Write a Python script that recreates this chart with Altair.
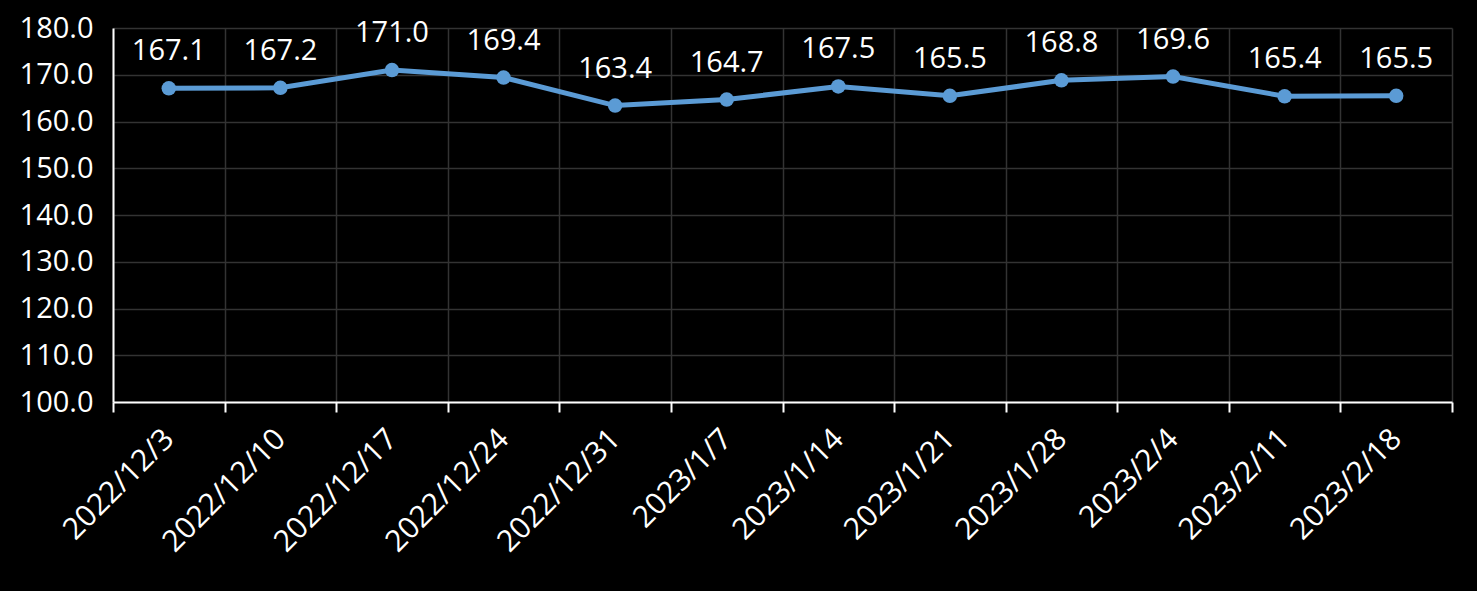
import altair as alt
import pandas as pd

dates = ["2022/12/3", "2022/12/10", "2022/12/17", "2022/12/24", "2022/12/31",
         "2023/1/7", "2023/1/14", "2023/1/21", "2023/1/28", "2023/2/4",
         "2023/2/11", "2023/2/18"]
values = [167.1, 167.2, 171.0, 169.4, 163.4, 164.7, 167.5, 165.5, 168.8, 169.6,
          165.4, 165.5]
y_ticks = [100, 110, 120, 130, 140, 150, 160, 170, 180]

n = len(dates)
df = pd.DataFrame({"idx": list(range(n)), "date": dates, "value": values})
boundaries = [i - 0.5 for i in range(n + 1)]
label_arr = "[" + ",".join("'" + d + "'" for d in dates) + "]"

FONT = "Open Sans"
LINE = "#5B9BD5"
GRID = "#333333"
FS = 29

xscale = alt.Scale(domain=[-0.5, n - 0.5], nice=False, zero=False)
yscale = alt.Scale(domain=[100, 180], nice=False, zero=False)

grid_layer = alt.Chart(df).mark_point(opacity=0).encode(
    x=alt.X("idx:Q", scale=xscale,
            axis=alt.Axis(orient="bottom", values=boundaries, grid=True, gridColor=GRID,
                          gridWidth=1.5, ticks=True, tickColor="white", tickSize=10,
                          tickWidth=2, domain=True, domainColor="white", domainWidth=2,
                          labels=False, title=None)),
    y=alt.Y("value:Q", scale=yscale,
            axis=alt.Axis(values=y_ticks, format=".1f", grid=True, gridColor=GRID,
                          gridWidth=1.5, ticks=False, domain=True, domainColor="white",
                          domainWidth=2, labelColor="white", labelFont=FONT,
                          labelFontSize=FS, labelPadding=20, labelOverlap=False,
                          title=None)),
)

line = alt.Chart(df).mark_line(color=LINE, strokeWidth=5).encode(
    x=alt.X("idx:Q", scale=xscale,
            axis=alt.Axis(orient="bottom", values=list(range(n)), grid=False, ticks=False,
                          domain=False, labelExpr=label_arr + "[datum.value]",
                          labelAngle=-45, labelAlign="right", labelBaseline="middle",
                          labelPadding=32, labelColor="white", labelFont=FONT,
                          labelFontSize=30, labelOverlap=False, labelBound=False,
                          title=None)),
    y=alt.Y("value:Q", scale=yscale),
)

pts = alt.Chart(df).mark_circle(color=LINE, size=210, opacity=1).encode(
    x=alt.X("idx:Q", scale=xscale, axis=None),
    y=alt.Y("value:Q", scale=yscale),
)

txt = alt.Chart(df).mark_text(color="white", font=FONT, fontSize=FS, dy=-28,
                              baseline="alphabetic").encode(
    x=alt.X("idx:Q", scale=xscale, axis=None),
    y=alt.Y("value:Q", scale=yscale),
    text=alt.Text("value:Q", format=".1f"),
)

chart = alt.layer(grid_layer, line, pts, txt).resolve_axis(x="independent").properties(
    width=1339, height=374,
    padding={"left": 113, "top": 28, "right": 25, "bottom": 189},
    autosize=alt.AutoSizeParams(type="none"),
    background="black",
).configure_view(stroke=None)

chart.save("out.html", embed_options={"renderer": "svg", "actions": False})
